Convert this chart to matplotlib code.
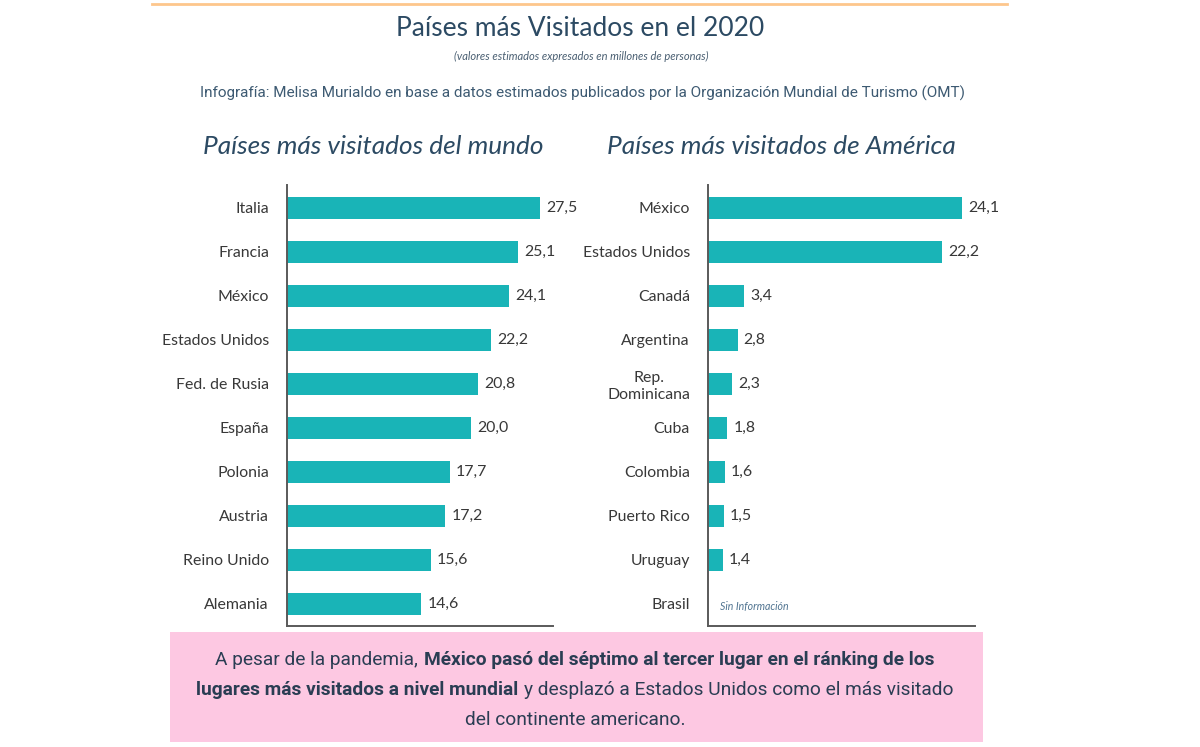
import numpy as np
import matplotlib
matplotlib.use("Agg")
import matplotlib.pyplot as plt
from matplotlib.patches import Rectangle
from matplotlib.lines import Line2D
from matplotlib.offsetbox import TextArea, HPacker, VPacker, AnchoredOffsetbox

# ---------------- data ----------------
world_countries = ["Italia", "Francia", "México", "Estados Unidos", "Fed. de Rusia",
                   "España", "Polonia", "Austria", "Reino Unido", "Alemania"]
world_values = [27.5, 25.1, 24.1, 22.2, 20.8, 20.0, 17.7, 17.2, 15.6, 14.6]

america_countries = ["México", "Estados Unidos", "Canadá", "Argentina", "Rep.\nDominicana",
                     "Cuba", "Colombia", "Puerto Rico", "Uruguay", "Brasil"]
america_values = [24.1, 22.2, 3.4, 2.8, 2.3, 1.8, 1.6, 1.5, 1.4, np.nan]

title = "Países más Visitados en el 2020"
subtitle = "(valores estimados expresados en millones de personas)"
credit = "Infografía: Melisa Murialdo en base a datos estimados publicados por la Organización Mundial de Turismo (OMT)"
left_title = "Países más visitados del mundo"
right_title = "Países más visitados de América"
no_info = "Sin Información"

# ---------------- style ----------------
BAR = "#19b4b7"
NAVY = "#2c4a63"
LABEL = "#383838"
SPINE = "#5a5a5a"
PINK = "#fdc8e2"
ORANGE = "#fdc68c"

fig = plt.figure(figsize=(12, 7.47), dpi=100)
fig.patch.set_facecolor("white")

def fmt(v):
    return "" if np.isnan(v) else f"{v:.1f}".replace(".", ",")

def draw_panel(ax, cats, vals, xmax):
    y = np.arange(len(cats))
    bars = ax.barh(y, vals, height=0.5, color=BAR)
    ax.set_yticks(y)
    ax.set_yticklabels(cats, fontsize=11.4, color=LABEL, fontfamily="Lato")
    for t in ax.get_yticklabels():
        t.set_multialignment("center")
    ax.tick_params(axis="y", length=0, pad=13)
    ax.set_xticks([])
    ax.set_xlim(0, xmax)
    ax.set_ylim(9.5, -0.52)
    for s in ["top", "right"]:
        ax.spines[s].set_visible(False)
    for s in ["left", "bottom"]:
        ax.spines[s].set_color(SPINE)
        ax.spines[s].set_linewidth(1.4)
    ax.bar_label(bars, labels=[fmt(v) for v in vals], padding=4.5,
                 fontsize=11.4, color=LABEL, fontfamily="Lato")
    return y

axL = fig.add_axes([287/1200, 1-626/747, 266/1200, 441/747])
draw_panel(axL, world_countries, world_values, 28.9)

axR = fig.add_axes([708/1200, 1-626/747, 267/1200, 441/747])
yr = draw_panel(axR, america_countries, america_values, 25.33)
axR.annotate(no_info, xy=(0, yr[-1]), xytext=(9, -2), textcoords="offset points",
             fontsize=7.6, style="italic", color="#4f7390", fontfamily="Lato",
             va="center", ha="left")

# ---------------- header ----------------
fig.add_artist(Line2D([152/1200, 1007/1200], [1-4/747, 1-4/747], color=ORANGE, lw=2))
fig.text(580/1200, 1-28/747, title, ha="center", va="center", fontsize=19,
         color=NAVY, fontfamily="Lato")
fig.text(581/1200, 1-56/747, subtitle, ha="center", va="center", fontsize=8,
         style="italic", color="#4a5f72", fontfamily="Lato")
fig.text(583/1200, 1-93/747, credit, ha="center", va="center", fontsize=11,
         color="#3d5a72", fontfamily="Roboto")
fig.text(373/1200, 1-147/747, left_title, ha="center", va="center", fontsize=18.9,
         style="italic", color=NAVY, fontfamily="Lato")
fig.text(781/1200, 1-147/747, right_title, ha="center", va="center", fontsize=18.9,
         style="italic", color=NAVY, fontfamily="Lato")

# ---------------- pink note box ----------------
fig.patches.append(Rectangle((170/1200, 1-742/747), 813/1200, 110/747,
                             transform=fig.transFigure, facecolor=PINK,
                             edgecolor="none", zorder=0))

TXT = "#2a3d53"
FS = 13.8
def piece(s, bold=False):
    return TextArea(s, textprops=dict(fontsize=FS, color=TXT, fontfamily="Roboto",
                                      fontweight="bold" if bold else "normal"))

lines = [
    [("A pesar de la pandemia,", False), ("México pasó del séptimo al tercer lugar en el ránking de los", True)],
    [("lugares más visitados a nivel mundial", True), ("y desplazó a Estados Unidos como el más visitado", False)],
    [("del continente americano.", False)],
]
rows = [HPacker(children=[piece(s, b) for s, b in ln], sep=4.5, pad=0, align="baseline")
        for ln in lines]
box = VPacker(children=rows, sep=8.5, pad=0, align="center")
anch = AnchoredOffsetbox(loc="center", child=box, frameon=False, pad=0, borderpad=0,
                         bbox_to_anchor=(575/1200, 1-690/747),
                         bbox_transform=fig.transFigure)
fig.add_artist(anch)

fig.savefig("out.png", dpi=100)
